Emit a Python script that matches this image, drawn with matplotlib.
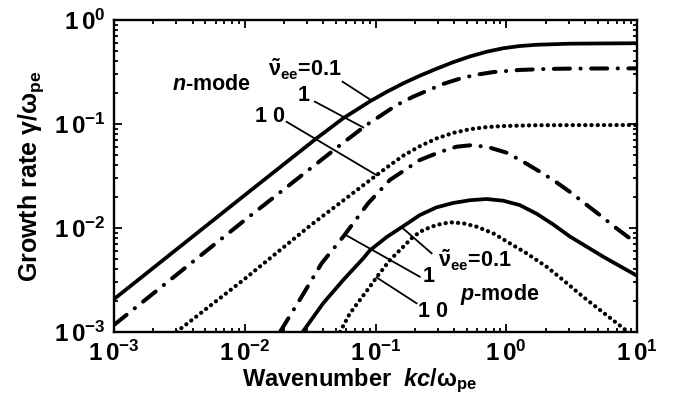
import numpy as np
import matplotlib as mpl

mpl.use('agg')

import matplotlib.pyplot as plt
from matplotlib.ticker import LogLocator, FuncFormatter, NullFormatter

plt.rcParams['font.family'] = 'Liberation Sans'
plt.rcParams['font.weight'] = 'bold'
plt.rcParams['mathtext.fontset'] = 'custom'
plt.rcParams['mathtext.rm'] = 'Liberation Sans:bold'
plt.rcParams['mathtext.it'] = 'Liberation Sans:italic:bold'
plt.rcParams['mathtext.bf'] = 'Liberation Sans:bold'

## n-mode growth rates vs wavenumber kc/w_pe
k_n01 = [0.001, 0.01, 0.0355, 0.0566, 0.0906, 0.122, 0.163, 0.218, 0.293, 0.393,
         0.527, 0.707, 0.947, 1.27, 1.71, 3.06, 10]
g_n01 = [0.00207, 0.0207, 0.073, 0.1135, 0.165, 0.204, 0.246, 0.291, 0.34, 0.393,
         0.446, 0.495, 0.535, 0.562, 0.578, 0.592, 0.598]

k_n1 = [0.001, 0.01, 0.0566, 0.0855, 0.145, 0.194, 0.33, 0.45, 0.593, 0.8, 1.27,
        2.0, 3.06, 10]
g_n1 = [0.00117, 0.0119, 0.066, 0.098, 0.152, 0.183, 0.243, 0.275, 0.298, 0.316,
        0.331, 0.338, 0.341, 0.343]

k_n10 = [0.003, 0.00975, 0.0315, 0.0906, 0.122, 0.163, 0.218, 0.293, 0.393, 0.527,
         0.707, 0.947, 1.71, 3.06, 10]
g_n10 = [0.001, 0.00316, 0.0105, 0.0288, 0.0382, 0.0496, 0.0611, 0.0726, 0.0821,
         0.0891, 0.0934, 0.0956, 0.0973, 0.0975, 0.0978]

## p-mode growth rates
k_p01 = [0.0277, 0.0398, 0.0566, 0.0806, 0.0906, 0.122, 0.163, 0.218, 0.293, 0.393,
         0.527, 0.707, 0.947, 1.27, 1.71, 2.29, 3.06, 5.51, 9.9]
g_p01 = [0.001, 0.00189, 0.00316, 0.00511, 0.0061, 0.0082, 0.0104, 0.0133, 0.0158,
         0.0174, 0.0185, 0.019, 0.0183, 0.0166, 0.0137, 0.0108, 0.0083, 0.0053, 0.0035]

k_p1 = [0.0186, 0.0272, 0.0387, 0.0566, 0.0879, 0.129, 0.218, 0.311, 0.417, 0.558,
        0.75, 1.005, 1.346, 1.806, 2.28, 3.06, 5.2, 6.97, 9.9]
g_p1 = [0.001, 0.00218, 0.00457, 0.00824, 0.0173, 0.029, 0.045, 0.0538, 0.0605,
        0.0628, 0.0592, 0.053, 0.0434, 0.0348, 0.029, 0.0223, 0.0133, 0.00993, 0.00713]

k_p10 = [0.0535, 0.0637, 0.076, 0.0906, 0.105, 0.129, 0.163, 0.194, 0.232, 0.293,
         0.371, 0.468, 0.593, 0.794, 1.065, 1.43, 2.03, 2.72, 3.87, 8.55]
g_p10 = [0.001, 0.00151, 0.00203, 0.00273, 0.00353, 0.00492, 0.0066, 0.00824,
         0.00957, 0.0107, 0.01135, 0.0111, 0.0103, 0.0089, 0.00713, 0.00571,
         0.00425, 0.00316, 0.00218, 0.001]


def on_curve(k, ks, gs):
    # growth rate of a curve at wavenumber k (log-log interpolation)
    return 10 ** np.interp(np.log10(k), np.log10(ks), np.log10(gs))


fig = plt.figure(figsize=(6.74, 4.04), dpi=100)
ax = fig.add_axes([114 / 674, 1 - 332 / 404, 523 / 674, 312 / 404])

solid = dict(color='black', linewidth=2.7, solid_capstyle='round')
dashdot = dict(color='black', linewidth=2.9, linestyle=(0, (4.0, 2.6, 0.05, 2.6)),
               dash_capstyle='round')
dotted = dict(color='black', linewidth=3.0, linestyle=(0, (0.05, 1.45)),
              dash_capstyle='round')

ax.plot(k_n01, g_n01, **solid)
ax.plot(k_n1, g_n1, **dashdot)
ax.plot(k_n10, g_n10, **dotted)
ax.plot(k_p01, g_p01, **solid)
ax.plot(k_p1, g_p1, **dashdot)
ax.plot(k_p10, g_p10, **dotted)

ax.set_xscale('log')
ax.set_yscale('log')
ax.set_xlim(1e-3, 10)
ax.set_ylim(1e-3, 1)

## Leader lines from curves to the labels
leader = dict(color='black', linewidth=1.3)
leaders = [
    (0.0933, k_n01, g_n01, 0.056, 0.255),
    (0.0806, k_n1, g_n1, 0.0344, 0.164),
    (0.1019, k_n10, g_n10, 0.0209, 0.105),
    (0.1585, k_p01, g_p01, 0.2686, 0.00571),
    (0.0583, k_p1, g_p1, 0.218, 0.0034),
    (0.1019, k_p10, g_p10, 0.206, 0.00189),
]
for k0, ks, gs, kx, gy in leaders:
    ax.plot([k0, kx], [on_curve(k0, ks, gs), gy], **leader)

nu = r'$\tilde{\mathrm{\nu}}_{\mathrm{ee}}$=0.1'
txt = dict(fontsize=15.5, fontweight='bold', va='baseline', ha='left')
ax.text(0.01503, 0.285, nu, **txt)
ax.text(0.0255, 0.166, '1', **txt)
ax.text(0.01197, 0.105, '1 0', **txt)
ax.text(0.00277, 0.212, r'$n$-mode', **txt)
ax.text(0.300, 0.00422, nu, **txt)
ax.text(0.230, 0.00305, '1', **txt)
ax.text(0.211, 0.0014, '1 0', **txt)
ax.text(0.4416, 0.00203, r'$p$-mode', **txt)

## Ticks on all four sides, pointing inward
fmt = FuncFormatter(lambda v, pos: r'$\mathdefault{1\,0^{%d}}$' % round(np.log10(v)))
for axis in (ax.xaxis, ax.yaxis):
    axis.set_major_locator(LogLocator(base=10, numticks=10))
    axis.set_minor_locator(LogLocator(base=10, subs=np.arange(2, 10), numticks=10))
    axis.set_major_formatter(fmt)
    axis.set_minor_formatter(NullFormatter())
ax.tick_params(which='both', direction='in', top=True, right=True, width=1.3)
ax.tick_params(which='major', length=6, labelsize=17.5, pad=6)
ax.tick_params(which='minor', length=3)
for spine in ax.spines.values():
    spine.set_linewidth(1.7)

fig.text(360 / 674, 1 - 386 / 404, r'Wavenumber  $kc$/$\mathrm{\omega_{pe}}$',
         fontsize=17, fontweight='bold', ha='center', va='baseline')
fig.text(31 / 674, 1 - 176 / 404, r'Growth rate $\mathrm{\gamma/\omega_{pe}}$',
         fontsize=18, fontweight='bold', ha='center', va='center', rotation=90)

fig.savefig('out.png', dpi=100)
